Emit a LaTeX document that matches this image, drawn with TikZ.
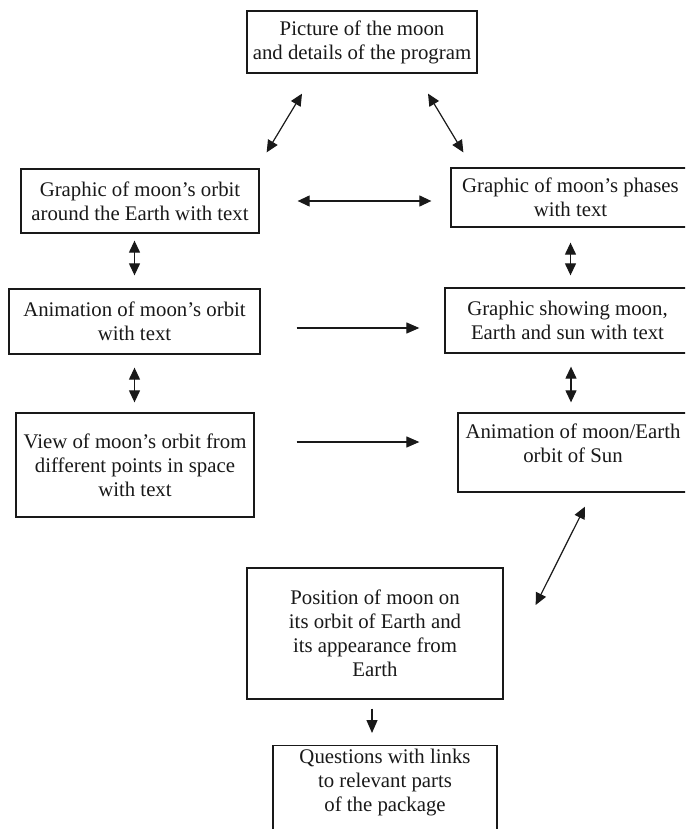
\documentclass[tikz,border=0pt]{standalone}
\usepackage{fontspec}
\setmainfont{Liberation Serif}
\usetikzlibrary{arrows.meta,calc}
\definecolor{ink}{gray}{0.1}
\tikzset{
  box/.style={draw=ink, line width=1.3pt, align=center, inner sep=0pt,
    font=\fontsize{20.8}{24}\selectfont, text=ink},
  dbl/.style={draw=ink, line width=1.2pt, {Triangle[length=12pt,width=11pt]}-{Triangle[length=12pt,width=11pt]}},
  sgl/.style={draw=ink, line width=1.2pt, -{Triangle[length=13pt,width=11pt]}}
}
\begin{document}
\begin{tikzpicture}[x=1pt,y=-1pt]
\fill[white] (0,0) rectangle (685,829);
\clip (0,0) rectangle (685,829);
% boxes
\node[box, minimum width=230pt, minimum height=62pt] (T) at (362,42)
  {Picture of the moon\\and details of the program};
\node[box, minimum width=238pt, minimum height=64pt] (A) at (140,201)
  {Graphic of moon’s orbit\\around the Earth with text};
\node[box, minimum width=239pt, minimum height=59pt] (B) at (570.5,197.5)
  {Graphic of moon’s phases\\with text};
\node[box, minimum width=251pt, minimum height=65pt] (C) at (134.5,321.5)
  {Animation of moon’s orbit\\with text};
\node[box, minimum width=245pt, minimum height=65pt] (D) at (567.5,320.5)
  {Graphic showing moon,\\Earth and sun with text};
\node[box, minimum width=238pt, minimum height=104pt] (E) at (135,465)
  {View of moon’s orbit from\\different points in space\\with text};
\node[box, minimum width=230pt, minimum height=79pt] (F) at (573,452.5)
  {Animation of moon/Earth\\orbit of Sun\\[-12pt]\strut};
\node[box, minimum width=256pt, minimum height=131pt] (G) at (375,633.5)
  {Position of moon on\\its orbit of Earth and\\its appearance from\\Earth};
\node[box, anchor=north, inner ysep=3pt] (H) at (385,745)
  {\parbox[t][110pt][t]{224pt}{\centering Questions with links\\to relevant parts\\of the package}};
% connectors
\draw[dbl] ($(T.south)+(-60,20)$) -- ($(A.north east)+(7,-16)$);
\draw[dbl] ($(T.south)+(66,20)$) -- ($(B.north west)+(13,-15)$);
\draw[dbl] ($(A.east)+(38,0)$) -- ($(B.west |- A.east)+(-19,0)$);
\draw[dbl] ($(A.south -| C.north)+(0,7)$) -- ($(C.north)+(0,-13)$);
\draw[dbl] ($(B.south)+(0,15)$) -- ($(D.north -| B.south)+(0,-12)$);
\draw[sgl] ($(C.east)+(36,6.5)$) -- ($(D.west)+(-25,7.5)$);
\draw[dbl] ($(C.south)+(0,13)$) -- ($(E.north -| C.south)+(0,-10)$);
\draw[dbl] ($(D.south)+(3.5,13)$) -- ($(F.north)+(-2,-10)$);
\draw[sgl] ($(E.east)+(42,-23)$) -- ($(F.west)+(-38,-10.5)$);
\draw[dbl] ($(F.south)+(12,14)$) -- ($(G.east)+(32,-28.5)$);
\draw[sgl] ($(G.south)+(-3,9)$) -- ($(H.north)+(-13,-12)$);
\end{tikzpicture}
\end{document}
